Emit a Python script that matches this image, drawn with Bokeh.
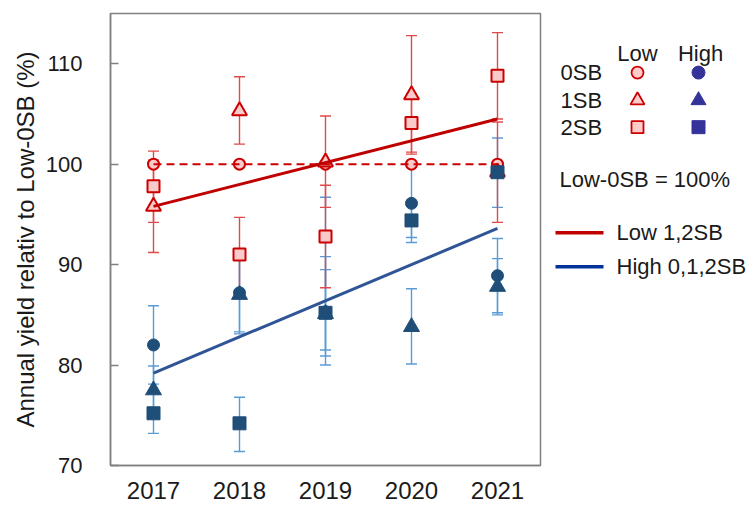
from bokeh.plotting import figure
from bokeh.models import Range1d, ColumnDataSource, Whisker, TeeHead, FixedTicker
from bokeh.layouts import row
from bokeh.core.properties import value
from bokeh.embed import file_html
from bokeh.resources import INLINE

# ---------------- data ----------------
years = [2017, 2018, 2019, 2020, 2021]

low_0sb = [100, 100, 100, 100, 100]

low_1sb = [95.8, 105.3, 100.2, 106.9, 99.2]
low_1sb_lo = [91.2, 102.0, 95.7, 101.0, 94.2]
low_1sb_hi = [100.4, 108.7, 104.8, 112.8, 104.2]

low_2sb = [97.8, 91.0, 92.8, 104.1, 108.8]
low_2sb_lo = [94.2, 87.3, 87.7, 101.2, 104.5]
low_2sb_hi = [101.3, 94.7, 97.9, 107.0, 113.1]

high_0sb = [82.0, 87.2, 85.3, 96.1, 88.9]
high_0sb_lo = [78.1, 83.3, 80.9, 92.2, 85.2]
high_0sb_hi = [85.9, 91.1, 89.5, 100.0, 92.6]

high_1sb = [77.5, 87.0, 85.1, 83.8, 87.8]
high_1sb_lo = [75.1, 83.1, 80.0, 80.1, 85.0]
high_1sb_hi = [79.9, 90.9, 90.8, 87.6, 90.6]

high_2sb = [75.2, 74.2, 85.2, 94.4, 99.2]
high_2sb_lo = [73.2, 71.4, 81.5, 92.7, 95.7]
high_2sb_hi = [77.2, 76.8, 96.7, 96.1, 102.6]

trend_years = [2017, 2021]
low_trend = [95.8, 104.5]     # Low 1,2SB
high_trend = [79.2, 93.6]     # High 0,1,2SB

y_ticks = [70, 80, 90, 100, 110]

FONT = "Liberation Sans"
TXT = "#1a1a1a"
RED_LINE = "#CC0000"
RED_FILL = "#F9CACA"
RED_ERR = "#E04A4A"
BLUE_MK = "#1F4E79"
BLUE_ERR = "#5B9BD5"

# ---------------- main plot ----------------
p = figure(width=548, height=505,
           x_range=Range1d(2016.5, 2021.5), y_range=Range1d(70, 115),
           output_backend="svg", toolbar_location=None,
           min_border_left=110, min_border_right=8,
           min_border_top=13, min_border_bottom=40)
p.xgrid.visible = False
p.ygrid.visible = False
p.outline_line_color = "#808080"
p.outline_line_width = 1.5
p.background_fill_color = "white"
p.border_fill_color = "white"

p.xaxis.ticker = FixedTicker(ticks=years)
p.yaxis.ticker = FixedTicker(ticks=y_ticks)
for ax in (p.xaxis[0], p.yaxis[0]):
    ax.axis_line_color = "#808080"
    ax.axis_line_width = 1.5
    ax.minor_tick_line_color = None
    ax.major_label_text_font = FONT
    ax.major_label_text_color = TXT
p.xaxis.major_label_text_font_size = "24px"
p.yaxis.major_label_text_font_size = "22px"
p.xaxis.major_tick_in = 0
p.xaxis.major_tick_out = 0
p.xaxis.major_label_standoff = 16
p.yaxis.major_tick_in = 8
p.yaxis.major_tick_out = 0
p.yaxis.major_tick_line_color = "#808080"
p.yaxis.major_tick_line_width = 1.5
p.yaxis.major_label_standoff = 28
p.yaxis.axis_label = "Annual yield relativ to Low-0SB (%)"
p.yaxis.axis_label_text_font = FONT
p.yaxis.axis_label_text_font_size = "24px"
p.yaxis.axis_label_text_font_style = "normal"
p.yaxis.axis_label_text_color = TXT
p.yaxis.axis_label_standoff = 4


def add_err(vals_lo, vals_hi, color):
    src = ColumnDataSource(dict(x=years, lo=vals_lo, hi=vals_hi))
    w = Whisker(base="x", lower="lo", upper="hi", source=src,
                line_color=color, line_width=1.4,
                upper_head=TeeHead(size=11, line_color=color, line_width=1.4),
                lower_head=TeeHead(size=11, line_color=color, line_width=1.4))
    p.add_layout(w)


# error bars (blue below red)
add_err(high_0sb_lo, high_0sb_hi, BLUE_ERR)
add_err(high_1sb_lo, high_1sb_hi, BLUE_ERR)
add_err(high_2sb_lo, high_2sb_hi, BLUE_ERR)
add_err(low_1sb_lo, low_1sb_hi, RED_ERR)
add_err(low_2sb_lo, low_2sb_hi, RED_ERR)

# red markers
p.scatter(years, low_0sb, marker="circle", size=11, fill_color=RED_FILL, line_color=RED_LINE, line_width=2)
p.scatter(years, low_1sb, marker="triangle", size=15, fill_color=RED_FILL, line_color=RED_LINE, line_width=2)
p.scatter(years, low_2sb, marker="square", size=12, fill_color=RED_FILL, line_color=RED_LINE, line_width=2)

# blue markers
p.scatter(years, high_0sb, marker="circle", size=12, fill_color=BLUE_MK, line_color=BLUE_MK)
p.scatter(years, high_1sb, marker="triangle", size=16, fill_color=BLUE_MK, line_color=BLUE_MK)
p.scatter(years, high_2sb, marker="square", size=13, fill_color=BLUE_MK, line_color=BLUE_MK)

# Low-0SB reference dashed line
p.line(years, low_0sb, line_color=RED_LINE, line_width=2, line_dash="8 5")

# trend lines
p.line(trend_years, low_trend, line_color="#C00000", line_width=3)
p.line(trend_years, high_trend, line_color="#2F5597", line_width=3)

# ---------------- legend panel ----------------
lg = figure(width=200, height=505, x_range=Range1d(0, 200), y_range=Range1d(505, 0),
            output_backend="svg", toolbar_location=None,
            x_axis_type=None, y_axis_type=None, min_border=0)
lg.xgrid.visible = False
lg.ygrid.visible = False
lg.outline_line_color = None
lg.background_fill_color = "white"
lg.border_fill_color = "white"

lg.text(x=[89, 152], y=[45, 45], text=["Low", "High"],
        text_font=value(FONT), text_font_size="22px", text_color=TXT,
        text_align="center", text_baseline="middle")
lg.text(x=[12, 12, 12], y=[66, 97, 127], text=["0SB", "1SB", "2SB"],
        text_font=value(FONT), text_font_size="22px", text_color=TXT,
        text_align="left", text_baseline="middle")
lg.scatter(x=[89, 89, 89], y=[66, 97, 127], marker=["circle", "triangle", "square"],
           size=[12, 14, 12], fill_color="#FFCCCC", line_color=RED_LINE, line_width=1.8)
lg.scatter(x=[150, 150, 150], y=[66, 97, 127], marker=["circle", "triangle", "square"],
           size=[13, 15, 13], fill_color="#333399", line_color="#333399")
lg.text(x=[11], y=[186], text=["Low-0SB = 100%"],
        text_font=value(FONT), text_font_size="22px", text_color=TXT,
        text_align="left", text_baseline="middle")
lg.line([7, 55], [245, 245], line_color="#C00000", line_width=3.5)
lg.line([7, 55], [283, 283], line_color="#003399", line_width=3.5)
lg.text(x=[68, 68], y=[245, 283], text=["Low 1,2SB", "High 0,1,2SB"],
        text_font=value(FONT), text_font_size="22px", text_color=TXT,
        text_align="left", text_baseline="middle")

layout = row(p, lg)
open("out.html", "w").write(file_html(layout, INLINE))
